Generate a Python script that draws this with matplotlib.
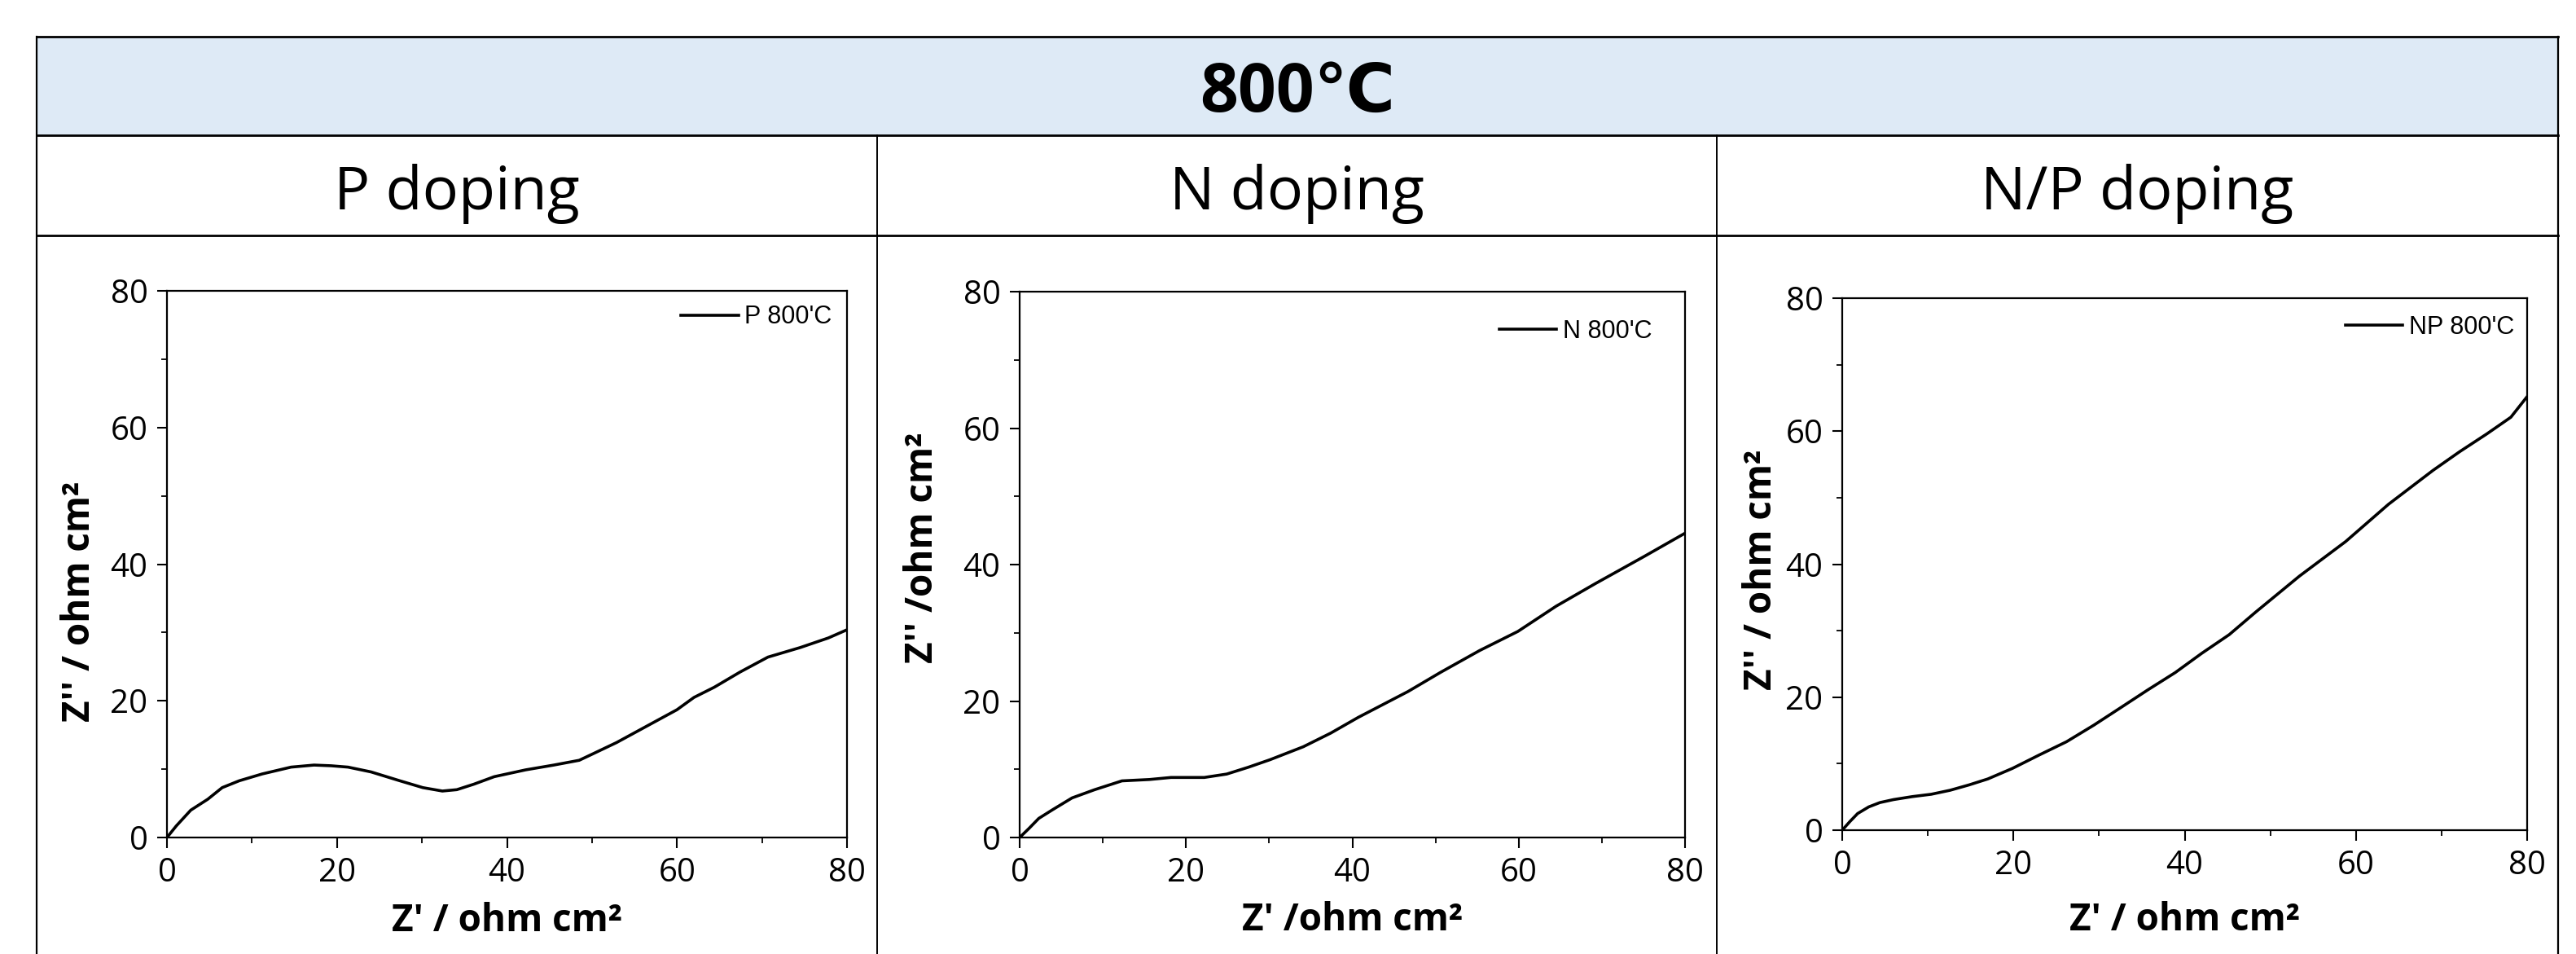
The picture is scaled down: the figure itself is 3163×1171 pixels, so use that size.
import matplotlib
matplotlib.use("Agg")
import matplotlib.pyplot as plt
from matplotlib.ticker import MultipleLocator
from matplotlib.patches import Rectangle
from matplotlib.lines import Line2D

# figure size in pixels (dpi 100)
W, H = 3163, 1171

title = "800℃"
columns = ["P doping", "N doping", "N/P doping"]
legend_labels = ["P 800'C", "N 800'C", "NP 800'C"]
xlabels = ["Z' / ohm cm²", "Z' /ohm cm²", "Z' / ohm cm²"]
ylabels = ["Z'' / ohm cm²", "Z'' /ohm cm²", "Z'' / ohm cm²"]

# Nyquist data (Z', Z'')
p_x = [0, 1.1, 2.8, 4.8, 6.5, 8.5, 11.2, 14.6, 17.3, 19.3, 21.3, 24.0, 27.4, 30.1,
       32.4, 34.1, 36.1, 38.5, 42.2, 45.5, 48.5, 50.2, 52.9, 56.3, 60.0, 62.0,
       64.4, 67.4, 70.7, 74.5, 77.8, 80.0]
p_y = [0, 1.7, 4.0, 5.6, 7.3, 8.3, 9.3, 10.3, 10.6, 10.5, 10.3, 9.6, 8.3, 7.3,
       6.8, 7.0, 7.8, 8.9, 9.9, 10.6, 11.3, 12.3, 13.9, 16.2, 18.7, 20.5,
       22.0, 24.2, 26.4, 27.8, 29.2, 30.4]

n_x = [0, 1.1, 2.3, 4.0, 6.3, 9.0, 12.3, 15.6, 18.2, 22.2, 24.9, 27.5, 30.1,
       34.1, 37.4, 40.7, 46.7, 50.6, 55.3, 59.9, 64.5, 69.2, 75.1, 80.0]
n_y = [0, 1.3, 2.8, 4.1, 5.8, 7.0, 8.3, 8.5, 8.8, 8.8, 9.3, 10.3, 11.4,
       13.3, 15.3, 17.6, 21.4, 24.2, 27.4, 30.2, 33.9, 37.2, 41.2, 44.6]

np_x = [0, 0.9, 1.8, 3.1, 4.4, 6.0, 8.2, 10.4, 12.6, 14.8, 17.0, 19.9, 23.0,
        26.2, 29.4, 32.5, 35.7, 38.9, 42.0, 45.2, 48.3, 53.4, 58.8, 63.8,
        69.0, 72.1, 75.3, 78.1, 80.0]
np_y = [0, 1.3, 2.5, 3.5, 4.15, 4.6, 5.05, 5.4, 6.0, 6.8, 7.7, 9.3, 11.3,
        13.3, 15.8, 18.4, 21.1, 23.7, 26.6, 29.4, 32.8, 38.2, 43.4, 49.0,
        54.1, 56.9, 59.6, 62.1, 65.2]

series = [(p_x, p_y), (n_x, n_y), (np_x, np_y)]


def fx(px):
    return px / W


def fy(py):
    return 1 - py / H


fig = plt.figure(figsize=(W / 100, H / 100), dpi=100)

# ---- table frame ----
left, right = 45, 3141
col_edges = [left, 1077, 2108, right]
top, head_bot, row_bot = 45, 166, 289
header_fill = "#DEEAF6"

fig.add_artist(Rectangle((fx(left), fy(head_bot)), fx(right) - fx(left),
                         fy(top) - fy(head_bot), transform=fig.transFigure,
                         facecolor=header_fill, edgecolor="none"))
for yy in [top, head_bot, row_bot]:
    fig.add_artist(Line2D([fx(left), fx(right)], [fy(yy), fy(yy)],
                          color="black", lw=2.0))
for xx in [left, right]:
    fig.add_artist(Line2D([fx(xx), fx(xx)], [fy(top), 0], color="black", lw=1.6))
for xx in col_edges[1:-1]:
    fig.add_artist(Line2D([fx(xx), fx(xx)], [fy(head_bot), 0], color="black", lw=1.4))

fig.text(fx((left + right) / 2), fy(137), title, ha="center", va="baseline",
         fontsize=59, fontweight="bold", family=["Open Sans", "DejaVu Sans"])
for i, name in enumerate(columns):
    cx = (col_edges[i] + col_edges[i + 1]) / 2
    fig.text(fx(cx), fy(257), name, ha="center", va="baseline",
             fontsize=53, family="Open Sans")

# ---- plots ----
# (left, right, top, bottom) in pixels
boxes = [(205, 1040, 357, 1028), (1252, 2069, 358, 1028), (2262, 3103, 366, 1019)]
leg_pos = [(0.978, 0.952), (0.950, 0.927), (0.981, 0.945)]
ylab_pos = [(-0.129, 0.432), (-0.146, 0.531), (-0.118, 0.489)]
xlab_y = [-0.171, -0.170, -0.188]

for i, (x, y) in enumerate(series):
    l, r, t, b = boxes[i]
    ax = fig.add_axes([fx(l), fy(b), fx(r) - fx(l), fy(t) - fy(b)])
    ax.plot(x, y, color="black", lw=2.6, label=legend_labels[i])
    ax.set_xlim(0, 80)
    ax.set_ylim(0, 80)
    ax.xaxis.set_major_locator(MultipleLocator(20))
    ax.xaxis.set_minor_locator(MultipleLocator(10))
    ax.yaxis.set_major_locator(MultipleLocator(20))
    ax.yaxis.set_minor_locator(MultipleLocator(10))
    ax.tick_params(which="major", direction="out", length=9, width=1.5,
                   labelsize=29, pad=8)
    ax.tick_params(which="minor", direction="out", length=5, width=1.3)
    for lab in ax.get_xticklabels() + ax.get_yticklabels():
        lab.set_family("Open Sans")
    for s in ax.spines.values():
        s.set_linewidth(1.6)

    ax.set_xlabel(xlabels[i], fontsize=33, fontweight="bold", family="Open Sans")
    ax.xaxis.label.set_va("baseline")
    ax.xaxis.set_label_coords(0.5, xlab_y[i])
    ax.set_ylabel(ylabels[i], fontsize=33, fontweight="bold", family="Open Sans")
    ax.yaxis.label.set(rotation_mode="default", va="center", ha="center")
    ax.yaxis.set_label_coords(*ylab_pos[i])

    ax.legend(loc="center right", bbox_to_anchor=leg_pos[i], frameon=False,
              borderpad=0, borderaxespad=0, handlelength=2.3, handletextpad=0.25,
              prop={"family": "Liberation Sans", "size": 22})

fig.savefig("out.png", dpi=100)
